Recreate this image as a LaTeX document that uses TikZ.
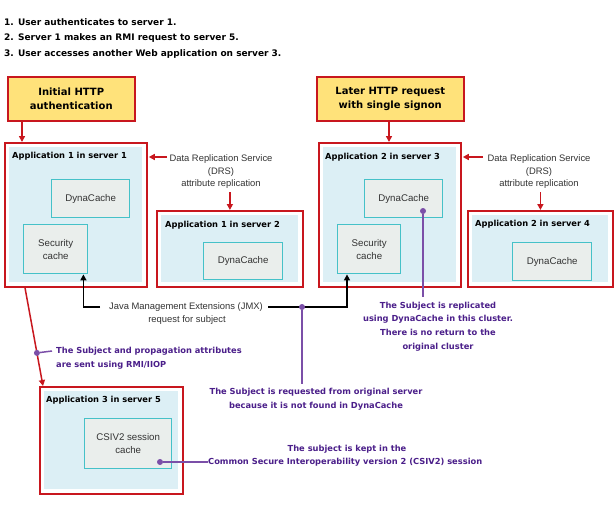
\documentclass[tikz,border=0pt]{standalone}
\usepackage{fontspec}
\setmainfont{Liberation Sans}
\newfontfamily\boldfam{DejaVu Sans}
\usetikzlibrary{arrows.meta}
\definecolor{rd}{HTML}{C8171E}
\definecolor{yl}{HTML}{FFE27A}
\definecolor{lb}{HTML}{DCEFF5}
\definecolor{tl}{HTML}{45C1C8}
\definecolor{gy}{HTML}{EAEEEC}
\definecolor{pu}{HTML}{7B4FA8}
\definecolor{pt}{HTML}{4B1F8A}
\definecolor{tx}{HTML}{333333}
\tikzset{
  outerbox/.style={draw=rd, line width=1.8pt, fill=white, inner sep=0, anchor=north west},
  innerbg/.style={fill=lb, inner sep=0, anchor=north west},
  cachebox/.style={draw=tl, line width=1.4pt, fill=gy, inner sep=0, anchor=north west, align=center, text=tx, font=\fontsize{9.7}{13}\selectfont},
  yellowbox/.style={draw=rd, line width=1.5pt, fill=yl, inner sep=0, anchor=north west, align=center, font=\boldfam\bfseries\fontsize{10}{14.5}\selectfont},
  apptitle/.style={anchor=west, inner sep=0, font=\boldfam\bfseries\fontsize{8.3}{10}\selectfont},
  toptext/.style={anchor=west, inner sep=0, font=\boldfam\bfseries\fontsize{9}{10}\selectfont},
  plain/.style={inner sep=0, text=tx, font=\fontsize{9.4}{12.5}\selectfont},
  ptext/.style={inner sep=0, text=pt, font=\boldfam\bfseries\fontsize{8.3}{13.6}\selectfont},
  redarrow/.style={draw=rd, line width=1.5pt, -{Triangle[length=6pt,width=6pt]}},
  blackarrow/.style={draw=black, line width=1.5pt, -{Triangle[length=6pt,width=6pt]}},
  pline/.style={draw=pu, line width=1.5pt},
  pdot/.style={circle, fill=pu, inner sep=0, minimum size=6pt},
}
\begin{document}
\begin{tikzpicture}[x=1pt,y=-1pt]
\path[use as bounding box, fill=white] (0,0) rectangle (615,512);

% numbered steps
\node[toptext] (t1) at (4,22) {1. User authenticates to server 1.};
\node[toptext] (t2) at (4,38) {2. Server 1 makes an RMI request to server 5.};
\node[toptext] (t3) at (4,54) {3. User accesses another Web application on server 3.};

% yellow boxes
\node[yellowbox, minimum width=127, minimum height=44] (y1) at (7,76) {Initial HTTP\\authentication};
\node[yellowbox, minimum width=147, minimum height=44] (y2) at (316,76) {Later HTTP request\\with single signon};

% server 1
\node[outerbox, minimum width=142, minimum height=144] (s1) at (4,142) {};
\node[innerbg, minimum width=133, minimum height=135] (s1i) at (8.5,146.5) {};
\node[apptitle] (s1t) at (12,156) {Application 1 in server 1};
\node[cachebox, minimum width=78, minimum height=38] (d1) at (51,179) {DynaCache};
\node[cachebox, minimum width=64, minimum height=49] (sc1) at (23,224) {Security\\cache};

% server 2
\node[outerbox, minimum width=146, minimum height=76] (s2) at (156,210) {};
\node[innerbg, minimum width=137, minimum height=67] (s2i) at (160.5,214.5) {};
\node[apptitle] (s2t) at (165,225) {Application 1 in server 2};
\node[cachebox, minimum width=79, minimum height=37] (d2) at (203,242) {DynaCache};

% server 3
\node[outerbox, minimum width=142, minimum height=144] (s3) at (318,142) {};
\node[innerbg, minimum width=133, minimum height=135] (s3i) at (322.5,146.5) {};
\node[apptitle] (s3t) at (325,157) {Application 2 in server 3};
\node[cachebox, minimum width=78, minimum height=38] (d3) at (364,179) {DynaCache};
\node[cachebox, minimum width=63, minimum height=49] (sc3) at (337,224) {Security\\cache};

% server 4
\node[outerbox, minimum width=145, minimum height=76] (s4) at (467,210) {};
\node[innerbg, minimum width=136, minimum height=67] (s4i) at (471.5,214.5) {};
\node[apptitle] (s4t) at (475,224) {Application 2 in server 4};
\node[cachebox, minimum width=79, minimum height=38] (d4) at (512,242) {DynaCache};

% server 5
\node[outerbox, minimum width=143, minimum height=107] (s5) at (39,386) {};
\node[innerbg, minimum width=134, minimum height=98] (s5i) at (43.5,390.5) {};
\node[apptitle] (s5t) at (46,400) {Application 3 in server 5};
\node[cachebox, minimum width=87, minimum height=50] (cs) at (84,418) {CSIV2 session\\cache};

% DRS labels
\node[plain, align=center] (drs1) at (221,172) {Data Replication Service\\(DRS)\\attribute replication};
\node[plain, align=center] (drs2) at (539,172) {Data Replication Service\\(DRS)\\attribute replication};

% red arrows
\draw[redarrow] (y1.south -| 22,0) -- (s1.north -| 22,0);
\draw[redarrow] (y2.south -| 389,0) -- (s3.north -| 389,0);
\coordinate (a1) at (167,157);
\draw[redarrow] (a1) -- ([xshift=1pt]s1.east |- a1);
\coordinate (a2) at (483,157);
\draw[redarrow] (a2) -- ([xshift=1pt]s3.east |- a2);
\draw[redarrow] (drs1.south -| s2.north) ++(0,3) -- (s2.north);
\draw[redarrow] (drs2.south -| s4.north) ++(0,3) -- (s4.north);

% RMI arrow
\coordinate (r0) at (s1.south -| 25,0);
\coordinate (r1) at (s5.north -| 43,0);
\draw[redarrow] (r0) -- (r1) coordinate[pos=0.663] (rdot);

% JMX
\node[plain, anchor=west] (jmx1) at (109,307) {Java Management Extensions (JMX)};
\node[plain] (jmx2) at (187,320) {request for subject};
\draw[blackarrow] ([xshift=-9pt]jmx1.west) -| ([xshift=-5pt]sc1.south east);
\draw[blackarrow] ([xshift=5pt]jmx1.east) -| ([xshift=10pt]sc3.south west);

% purple annotations
\node[pdot] (pd1) at (302,307) {};
\node[ptext, align=center] (req) at (316,399.5) {The Subject is requested from original server\\because it is not found in DynaCache};
\draw[pline] (pd1) -- (pd1 |- 0,384);

\node[pdot] (pd2) at (423,211) {};
\node[ptext, align=center] (repl) at (438,326.5) {The Subject is replicated\\using DynaCache in this cluster.\\There is no return to the\\original cluster};
\draw[pline] (pd2) -- (pd2 |- 0,297);

\node[pdot] (pd3) at (rdot) {};
\node[ptext, align=left, anchor=west] (rmi) at (56,358) {The Subject and propagation attributes\\are sent using RMI/IIOP};
\draw[pline] (pd3) -- (52,351);

\node[pdot] (pd4) at (160,462) {};
\node[ptext, anchor=west] (csi2) at (208,462) {Common Secure Interoperability version 2 (CSIV2) session};
\node[ptext] (csi1) at (347,449) {The subject is kept in the};
\draw[pline] (pd4) -- (csi2.west);
\end{tikzpicture}
\end{document}
